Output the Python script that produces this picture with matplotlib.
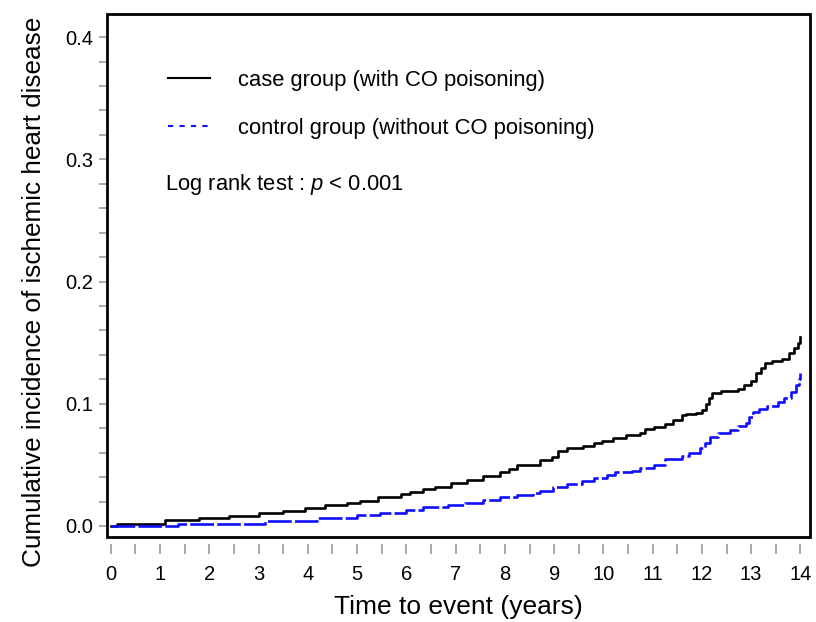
import matplotlib
matplotlib.use("Agg")
import matplotlib.pyplot as plt
from matplotlib.lines import Line2D
from matplotlib.patches import Rectangle
from matplotlib.ticker import MultipleLocator

plt.rcParams['font.family'] = ['Liberation Sans', 'DejaVu Sans']
plt.rcParams['mathtext.fontset'] = 'custom'
plt.rcParams['mathtext.it'] = 'Liberation Sans:italic'
plt.rcParams['mathtext.rm'] = 'Liberation Sans'

# Case group (with CO poisoning)
case_t = [0, 0.12, 1.1, 1.8, 2.4, 3.0, 3.5, 3.95, 4.35, 4.8, 5.06, 5.43, 5.9, 6.08,
          6.34, 6.59, 6.9, 7.24, 7.55, 7.9, 8.08, 8.25, 8.72, 8.96, 9.07, 9.27, 9.59,
          9.8, 9.98, 10.2, 10.45, 10.75, 10.85, 11.02, 11.26, 11.42, 11.6, 11.67, 11.87,
          12.01, 12.08, 12.15, 12.21, 12.38, 12.74, 12.85, 12.99, 13.09, 13.19, 13.29,
          13.43, 13.62, 13.76, 13.86, 13.96, 14.0]
case_v = [0, 0.002, 0.0045, 0.0065, 0.0085, 0.011, 0.0125, 0.0147, 0.017, 0.019, 0.0207,
          0.0235, 0.026, 0.028, 0.030, 0.032, 0.035, 0.0376, 0.041, 0.0444, 0.047, 0.050,
          0.054, 0.0567, 0.0616, 0.0636, 0.0655, 0.0677, 0.0698, 0.0718, 0.0745, 0.076,
          0.079, 0.081, 0.0835, 0.0867, 0.0908, 0.0914, 0.0927, 0.095, 0.100, 0.105,
          0.1086, 0.1107, 0.112, 0.1154, 0.119, 0.125, 0.129, 0.133, 0.135, 0.1364,
          0.1413, 0.1454, 0.1495, 0.155]

# Control group (without CO poisoning)
ctrl_t = [0, 1.36, 3.13, 4.19, 5.0, 5.47, 6.0, 6.34, 6.85, 7.2, 7.55, 7.9, 8.25, 8.58,
          8.72, 8.98, 9.27, 9.57, 9.8, 10.08, 10.24, 10.59, 10.75, 11.02, 11.26, 11.5,
          11.6, 11.73, 11.97, 12.07, 12.17, 12.32, 12.58, 12.74, 12.89, 12.95, 13.03,
          13.15, 13.33, 13.54, 13.66, 13.8, 13.9, 13.97, 14.0]
ctrl_v = [0, 0.0017, 0.004, 0.0063, 0.0088, 0.011, 0.013, 0.0153, 0.017, 0.019, 0.021,
          0.0235, 0.025, 0.0268, 0.0289, 0.0317, 0.0344, 0.0371, 0.039, 0.0417, 0.0444,
          0.0453, 0.0472, 0.050, 0.0546, 0.055, 0.0573, 0.0595, 0.0636, 0.0677, 0.073,
          0.076, 0.0786, 0.082, 0.084, 0.0895, 0.0935, 0.0955, 0.098, 0.1017, 0.105,
          0.110, 0.1154, 0.120, 0.125]

labels = ["case group (with CO poisoning)", "control group (without CO poisoning)"]
x_ticks = list(range(0, 15))
y_ticks = [0.0, 0.1, 0.2, 0.3, 0.4]

fig = plt.figure(figsize=(8.16, 6.22), dpi=100)
ax = fig.add_axes([0.131, 0.1367, 0.862, 0.841])

ax.plot(case_t, case_v, drawstyle='steps-post', color='black', lw=1.9)
ax.plot(ctrl_t, ctrl_v, drawstyle='steps-post', color='#1010ff', lw=1.9,
        ls=(0, (9, 1.2)))

ax.set_xlim(-0.08, 14.2)
ax.set_ylim(-0.009, 0.419)

ax.set_xticks(x_ticks)
ax.set_xticklabels([str(t) for t in x_ticks])
ax.xaxis.set_minor_locator(MultipleLocator(0.5))
ax.set_yticks(y_ticks)
ax.set_yticklabels([f"{v:.1f}" for v in y_ticks])
ax.yaxis.set_minor_locator(MultipleLocator(0.02))

ax.tick_params(axis='x', which='both', direction='out', length=7, width=1.2,
               color='#999999', labelsize=14.5, pad=8)
ax.tick_params(axis='y', which='both', direction='out', length=5, width=1.2,
               color='#999999', labelsize=14.5, pad=4)

# ticks sit slightly away from the frame on the x axis
ax.spines['bottom'].set_position(('outward', 5))
ax.spines['left'].set_position(('outward', 1))
for s in ax.spines.values():
    s.set_visible(False)
ax.add_patch(Rectangle((0, 0), 1, 1, transform=ax.transAxes, fill=False,
                       lw=2.0, ec='black', clip_on=False, zorder=5))

ax.set_xlabel("Time to event (years)", fontsize=19, labelpad=8)
ax.set_ylabel("Cumulative incidence of ischemic heart disease", fontsize=18.8)
ax.yaxis.set_label_coords(-0.086, 0.468)

handles = [Line2D([], [], color='black', lw=1.5),
           Line2D([], [], color='#1010ff', lw=1.5, ls=(0, (2.5, 3)))]
ax.legend(handles, labels, loc='upper left', bbox_to_anchor=(0.0588, 0.931),
          frameon=False, fontsize=15.8, handlelength=1.9, handletextpad=1.3,
          labelspacing=1.245)

ax.text(0.082, 0.673, r"Log rank test : $\mathit{p}$ < 0.001", transform=ax.transAxes,
        fontsize=15.8, ha='left', va='center')

fig.savefig("out.png", dpi=100)
